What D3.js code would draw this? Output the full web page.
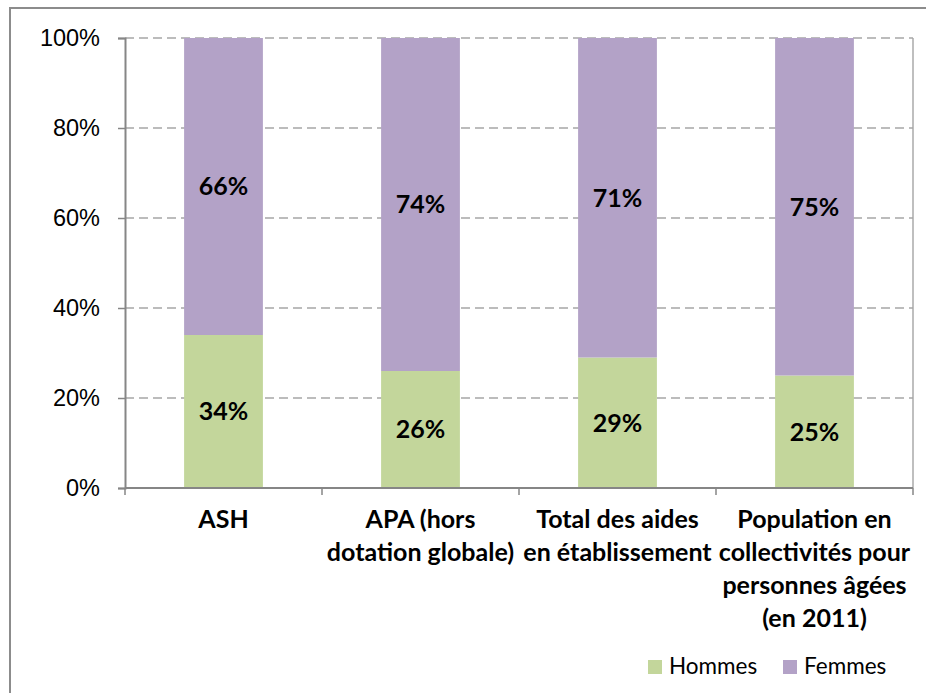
<!DOCTYPE html>
<html>
<head>
<meta charset="utf-8">
<script src="https://cdn.jsdelivr.net/npm/d3@7"></script>
<style>
  body { margin: 0; background: #fff; }
  svg { display: block; font-family: Lato, "Open Sans", sans-serif; }
  .tickLabel { font-size: 23.5px; fill: #000; }
  .catLabel { font-size: 25px; font-weight: bold; fill: #000; }
  .valLabel { font-size: 25px; font-weight: bold; fill: #000; }
  .legendLabel { font-size: 22.5px; fill: #000; }
</style>
</head>
<body>
<svg width="926" height="693"></svg>
<script>
var svg = d3.select('svg');

// categories (with their wrapped lines) and shares
var categories = ['ASH', 'APA', 'Total', 'Population'];
var categoryLines = [
  ['ASH'],
  ['APA (hors', 'dotation globale)'],
  ['Total des aides', 'en établissement'],
  ['Population en', 'collectivités pour', 'personnes âgées', '(en 2011)']
];
var hommes = [34, 26, 29, 25];
var femmes = [66, 74, 71, 75];
var yTicks = [0, 20, 40, 60, 80, 100];
var seriesNames = ['Hommes', 'Femmes'];
var colors = ['#c3d69b', '#b3a2c7'];

// outer chart frame
svg.append('rect')
  .attr('x', 10).attr('y', 8)
  .attr('width', 960).attr('height', 720)
  .attr('fill', 'none')
  .attr('stroke', '#8c8c8c')
  .attr('stroke-width', 2);

var xScale = d3.scaleBand()
  .domain(categories)
  .range([125, 913])
  .paddingInner(0.6)
  .paddingOuter(0.3);

var yScale = d3.scaleLinear()
  .domain([0, 100])
  .range([488, 38]);

// right border of the plot area
svg.append('line')
  .attr('x1', 913).attr('x2', 913)
  .attr('y1', 38).attr('y2', 488)
  .attr('stroke', '#bfbfbf').attr('stroke-width', 2);

// dashed gridlines
svg.selectAll('.grid')
  .data(yTicks.filter(function(d){ return d > 0; }))
  .enter()
  .append('line')
  .attr('class', 'grid')
  .attr('x1', 125).attr('x2', 913)
  .attr('y1', function(d){ return yScale(d); })
  .attr('y2', function(d){ return yScale(d); })
  .attr('stroke', '#a6a6a6')
  .attr('stroke-width', 1.5)
  .attr('stroke-dasharray', '9,5');

// stacked bars
var rows = categories.map(function(c, i){
  return { cat: c, Hommes: hommes[i], Femmes: femmes[i] };
});
var stacked = d3.stack().keys(seriesNames)(rows);

svg.selectAll('.series')
  .data(stacked)
  .enter()
  .append('g')
  .attr('class', 'series')
  .attr('fill', function(d, i){ return colors[i]; })
  .selectAll('rect')
  .data(function(d){ return d; })
  .enter()
  .append('rect')
  .attr('x', function(d){ return xScale(d.data.cat); })
  .attr('width', xScale.bandwidth())
  .attr('y', function(d){ return yScale(d[1]); })
  .attr('height', function(d){ return yScale(d[0]) - yScale(d[1]); });

// value labels centered in each segment
stacked.forEach(function(s){
  svg.selectAll('.val-' + s.key)
    .data(s)
    .enter()
    .append('text')
    .attr('class', 'valLabel')
    .attr('text-anchor', 'middle')
    .attr('dy', '0.35em')
    .attr('x', function(d){ return xScale(d.data.cat) + xScale.bandwidth() / 2; })
    .attr('y', function(d){ return yScale((d[0] + d[1]) / 2); })
    .text(function(d){ return (d[1] - d[0]) + '%'; });
});

// y axis
var yAxis = svg.append('g')
  .attr('transform', 'translate(125,0)')
  .call(d3.axisLeft(yScale)
    .tickValues(yTicks)
    .tickSize(7)
    .tickPadding(18)
    .tickFormat(function(d){ return d + '%'; }));
yAxis.select('.domain').attr('stroke', '#868686').attr('stroke-width', 2);
yAxis.selectAll('.tick line').attr('stroke', '#868686').attr('stroke-width', 1.5);
yAxis.selectAll('.tick text').attr('class', 'tickLabel').attr('font-size', null).attr('font-family', null);

// x axis line with ticks at category boundaries
var step = xScale.step();
var boundaries = d3.range(categories.length + 1).map(function(i){ return 125 + i * step; });
svg.append('line')
  .attr('x1', 125).attr('x2', 913)
  .attr('y1', 488).attr('y2', 488)
  .attr('stroke', '#868686').attr('stroke-width', 2);
svg.selectAll('.xtick')
  .data(boundaries)
  .enter()
  .append('line')
  .attr('class', 'xtick')
  .attr('x1', function(d){ return d; }).attr('x2', function(d){ return d; })
  .attr('y1', 488).attr('y2', 495)
  .attr('stroke', '#868686').attr('stroke-width', 1.5);

// category labels
svg.selectAll('.catLabel')
  .data(categories)
  .enter()
  .append('text')
  .attr('class', 'catLabel')
  .attr('text-anchor', 'middle')
  .attr('y', 528)
  .each(function(c, i){
    var t = d3.select(this);
    var cx = xScale(c) + xScale.bandwidth() / 2;
    categoryLines[i].forEach(function(line, j){
      t.append('tspan')
        .attr('x', cx)
        .attr('dy', j === 0 ? 0 : 33)
        .text(line);
    });
  });

// legend
var legendX = [648, 783];
var legend = svg.selectAll('.legend')
  .data(seriesNames)
  .enter()
  .append('g')
  .attr('class', 'legend')
  .attr('transform', function(d, i){ return 'translate(' + legendX[i] + ',0)'; });
legend.append('rect')
  .attr('x', 0).attr('y', 660)
  .attr('width', 14).attr('height', 14)
  .attr('fill', function(d, i){ return colors[i]; });
legend.append('text')
  .attr('class', 'legendLabel')
  .attr('x', 21).attr('y', 674)
  .text(function(d){ return d; });
</script>
</body>
</html>
